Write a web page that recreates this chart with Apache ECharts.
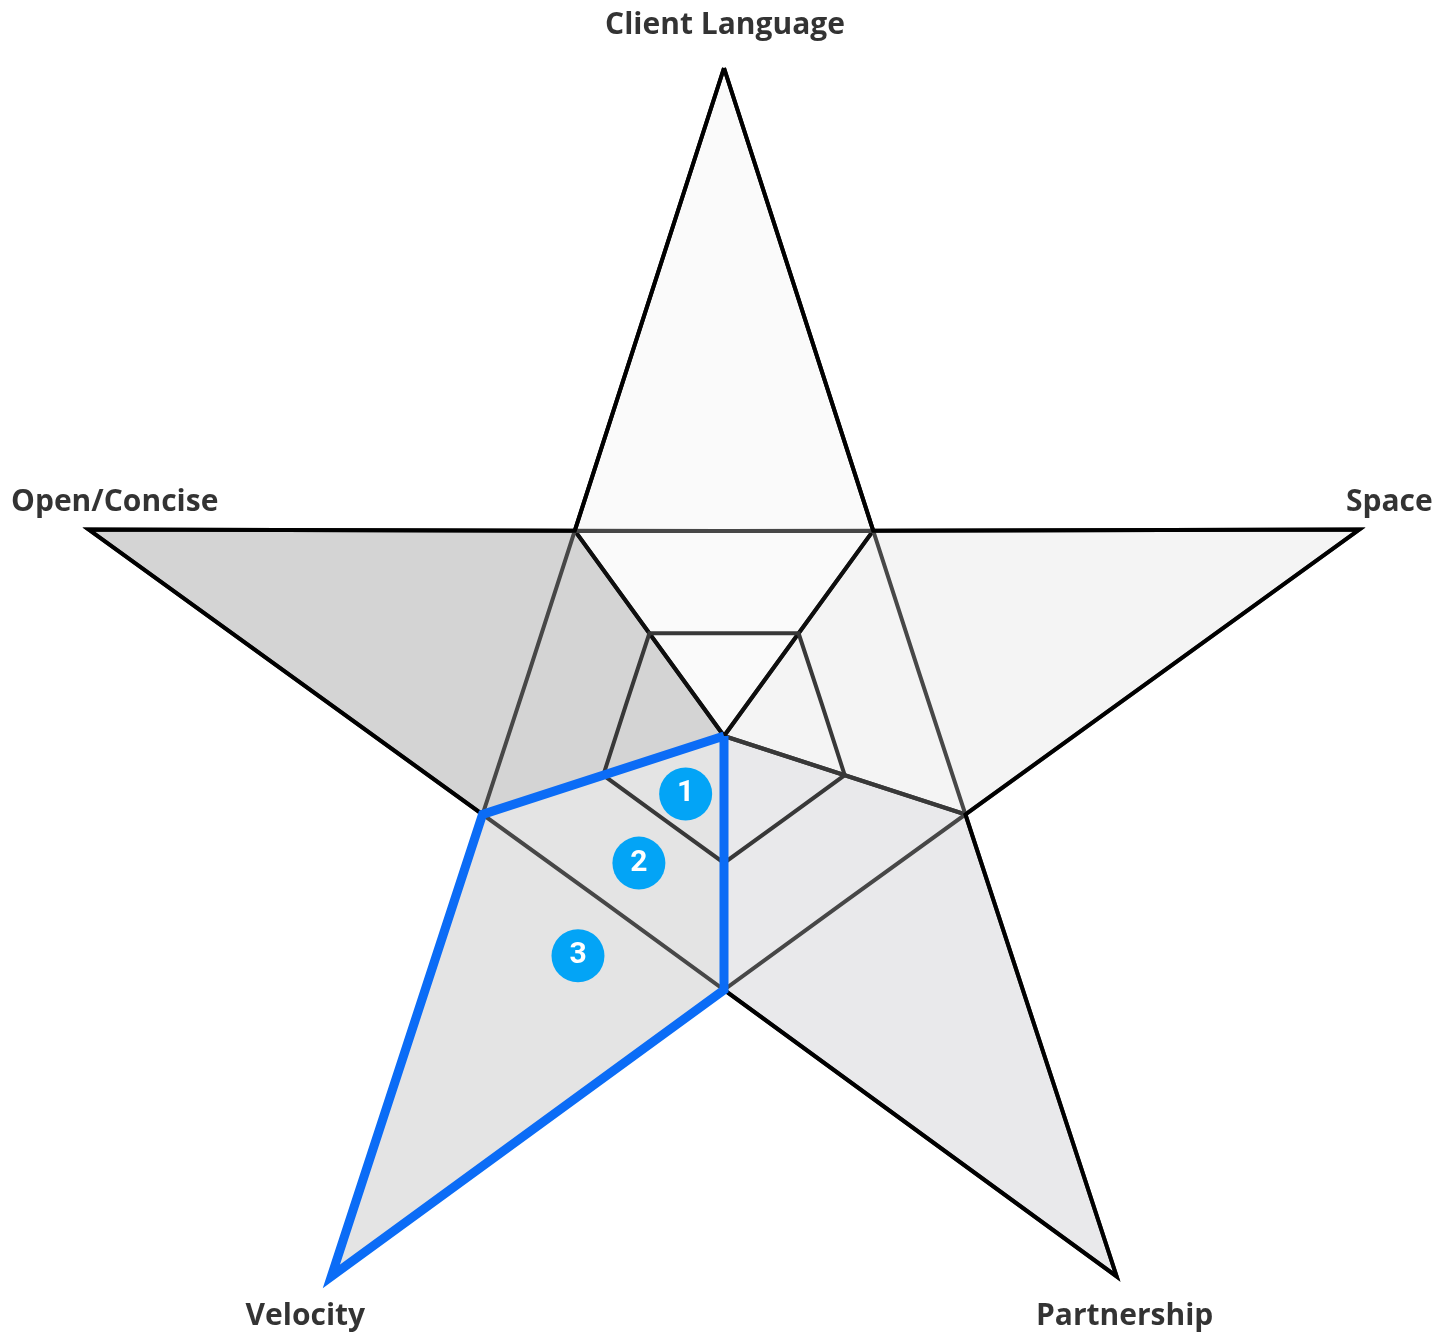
<!DOCTYPE html>
<html>
<head>
<meta charset="utf-8">
<script src="https://cdn.jsdelivr.net/npm/echarts@6/dist/echarts.min.js"></script>
<style>html,body{margin:0;padding:0;background:#fff}#c{width:1447px;height:1334px}</style>
</head>
<body>
<div id="c"></div>
<script>
// ---- data ----
const axisNames = ['Client Language', '', 'Open/Concise', '', 'Velocity', '', 'Partnership', '', 'Space', ''];
const tipNames = ['Client Language', 'Open/Concise', 'Velocity', 'Partnership', 'Space'];
const tipRadius = [1, 1, 1, 1, 1];
const tipAngle = [0, 72, 144, 216, 288];
const starOutline = [1, 0.38, 1, 0.38, 1, 0.38, 1, 0.38, 1, 0.38];
const outerRing = [0.307, 0.38, 0.307, 0.38, 0.307, 0.38, 0.307, 0.38, 0.307, 0.38];
const innerRing = [0.154, 0.19, 0.154, 0.19, 0.154, 0.19, 0.154, 0.19, 0.154, 0.19];
const clientLanguageSector = [1, 0.38, 0, 0, 0, 0, 0, 0, 0, 0.38];
const openConciseSector = [0, 0.38, 1, 0.38, 0, 0, 0, 0, 0, 0];
const velocitySector = [0, 0, 0, 0.38, 1, 0.38, 0, 0, 0, 0];
const partnershipSector = [0, 0, 0, 0, 0, 0.38, 1, 0.38, 0, 0];
const spaceSector = [0, 0, 0, 0, 0, 0, 0, 0.38, 1, 0.38];
const highlightPath = [0, 0, 0, 0.38, 1, 0.38, 0, 0, 0, 0];
const badgeLabels = ['1', '2', '3'];
const badgeRadius = [0.104, 0.229, 0.395];
const badgeAngle = [146.5, 146.2, 146.4];

// ---- styles ----
const CENTER = [724, 736];
const RADIUS = 668;
const nameOffsets = {
  'Client Language': [1, -43],
  'Open/Concise': [26, -27],
  'Velocity': [-26, 40],
  'Partnership': [8, 40],
  'Space': [30, -27]
};

function fillSeries(values, fill, z) {
  return {
    type: 'radar', silent: true, z: z, symbol: 'none',
    lineStyle: { width: 0, opacity: 0 },
    areaStyle: { color: fill, opacity: 1 },
    data: [{ value: values }]
  };
}
function lineSeries(values, stroke, width, z) {
  return {
    type: 'radar', silent: true, z: z, symbol: 'none',
    lineStyle: { color: stroke, width: width, join: 'miter', miterLimit: 10 },
    data: [{ value: values }]
  };
}

const chart = echarts.init(document.getElementById('c'), null, { renderer: 'canvas' });
chart.setOption({
  animation: false,
  backgroundColor: '#ffffff',
  radar: {
    center: CENTER,
    radius: RADIUS,
    startAngle: 90,
    shape: 'polygon',
    splitNumber: 1,
    indicator: axisNames.map(n => ({ name: n, min: 0, max: 1 })),
    axisName: { show: false },
    axisLine: { show: false },
    axisTick: { show: false },
    axisLabel: { show: false },
    splitLine: { show: false },
    splitArea: { show: false }
  },
  polar: { center: CENTER, radius: RADIUS },
  angleAxis: { type: 'value', min: 0, max: 360, startAngle: 90, clockwise: false, show: false },
  radiusAxis: { type: 'value', min: 0, max: 1, show: false },
  series: [
    fillSeries(clientLanguageSector, '#fafafa', 1),
    fillSeries(openConciseSector, '#d4d4d4', 1),
    fillSeries(velocitySector, '#e4e4e4', 1),
    fillSeries(partnershipSector, '#e9e9eb', 1),
    fillSeries(spaceSector, '#f4f4f4', 1),
    lineSeries(openConciseSector, '#2a2a2a', 4, 2),
    lineSeries(velocitySector, '#383838', 4, 2),
    lineSeries(partnershipSector, '#383838', 4, 2),
    lineSeries(spaceSector, '#383838', 4, 2),
    lineSeries(clientLanguageSector, '#0e0e0e', 4, 3),
    lineSeries(outerRing, '#474747', 4, 4),
    lineSeries(innerRing, '#383838', 4, 4),
    lineSeries(starOutline, '#000000', 4, 5),
    lineSeries(highlightPath, '#0b6cf6', 9, 6),
    {
      type: 'scatter',
      coordinateSystem: 'polar',
      silent: true,
      z: 7,
      symbol: 'circle',
      symbolSize: 53,
      itemStyle: { color: '#03a4f6', opacity: 1 },
      label: {
        show: true, position: 'inside', color: '#ffffff',
        fontFamily: 'Roboto', fontWeight: 'bold', fontSize: 30,
        formatter: p => p.name
      },
      data: badgeLabels.map((l, i) => ({ name: l, value: [badgeRadius[i], badgeAngle[i]] }))
    },
    {
      type: 'scatter',
      coordinateSystem: 'polar',
      silent: true,
      z: 7,
      symbol: 'circle',
      symbolSize: 1,
      itemStyle: { color: 'rgba(0,0,0,0)' },
      label: {
        show: true, position: 'inside', color: '#000000',
        fontFamily: 'Open Sans', fontWeight: 'bold', fontSize: 30,
        formatter: p => p.name
      },
      data: tipNames.map((n, i) => ({
        name: n,
        value: [tipRadius[i], tipAngle[i]],
        label: { offset: nameOffsets[n] }
      }))
    }
  ]
});
</script>
</body>
</html>
